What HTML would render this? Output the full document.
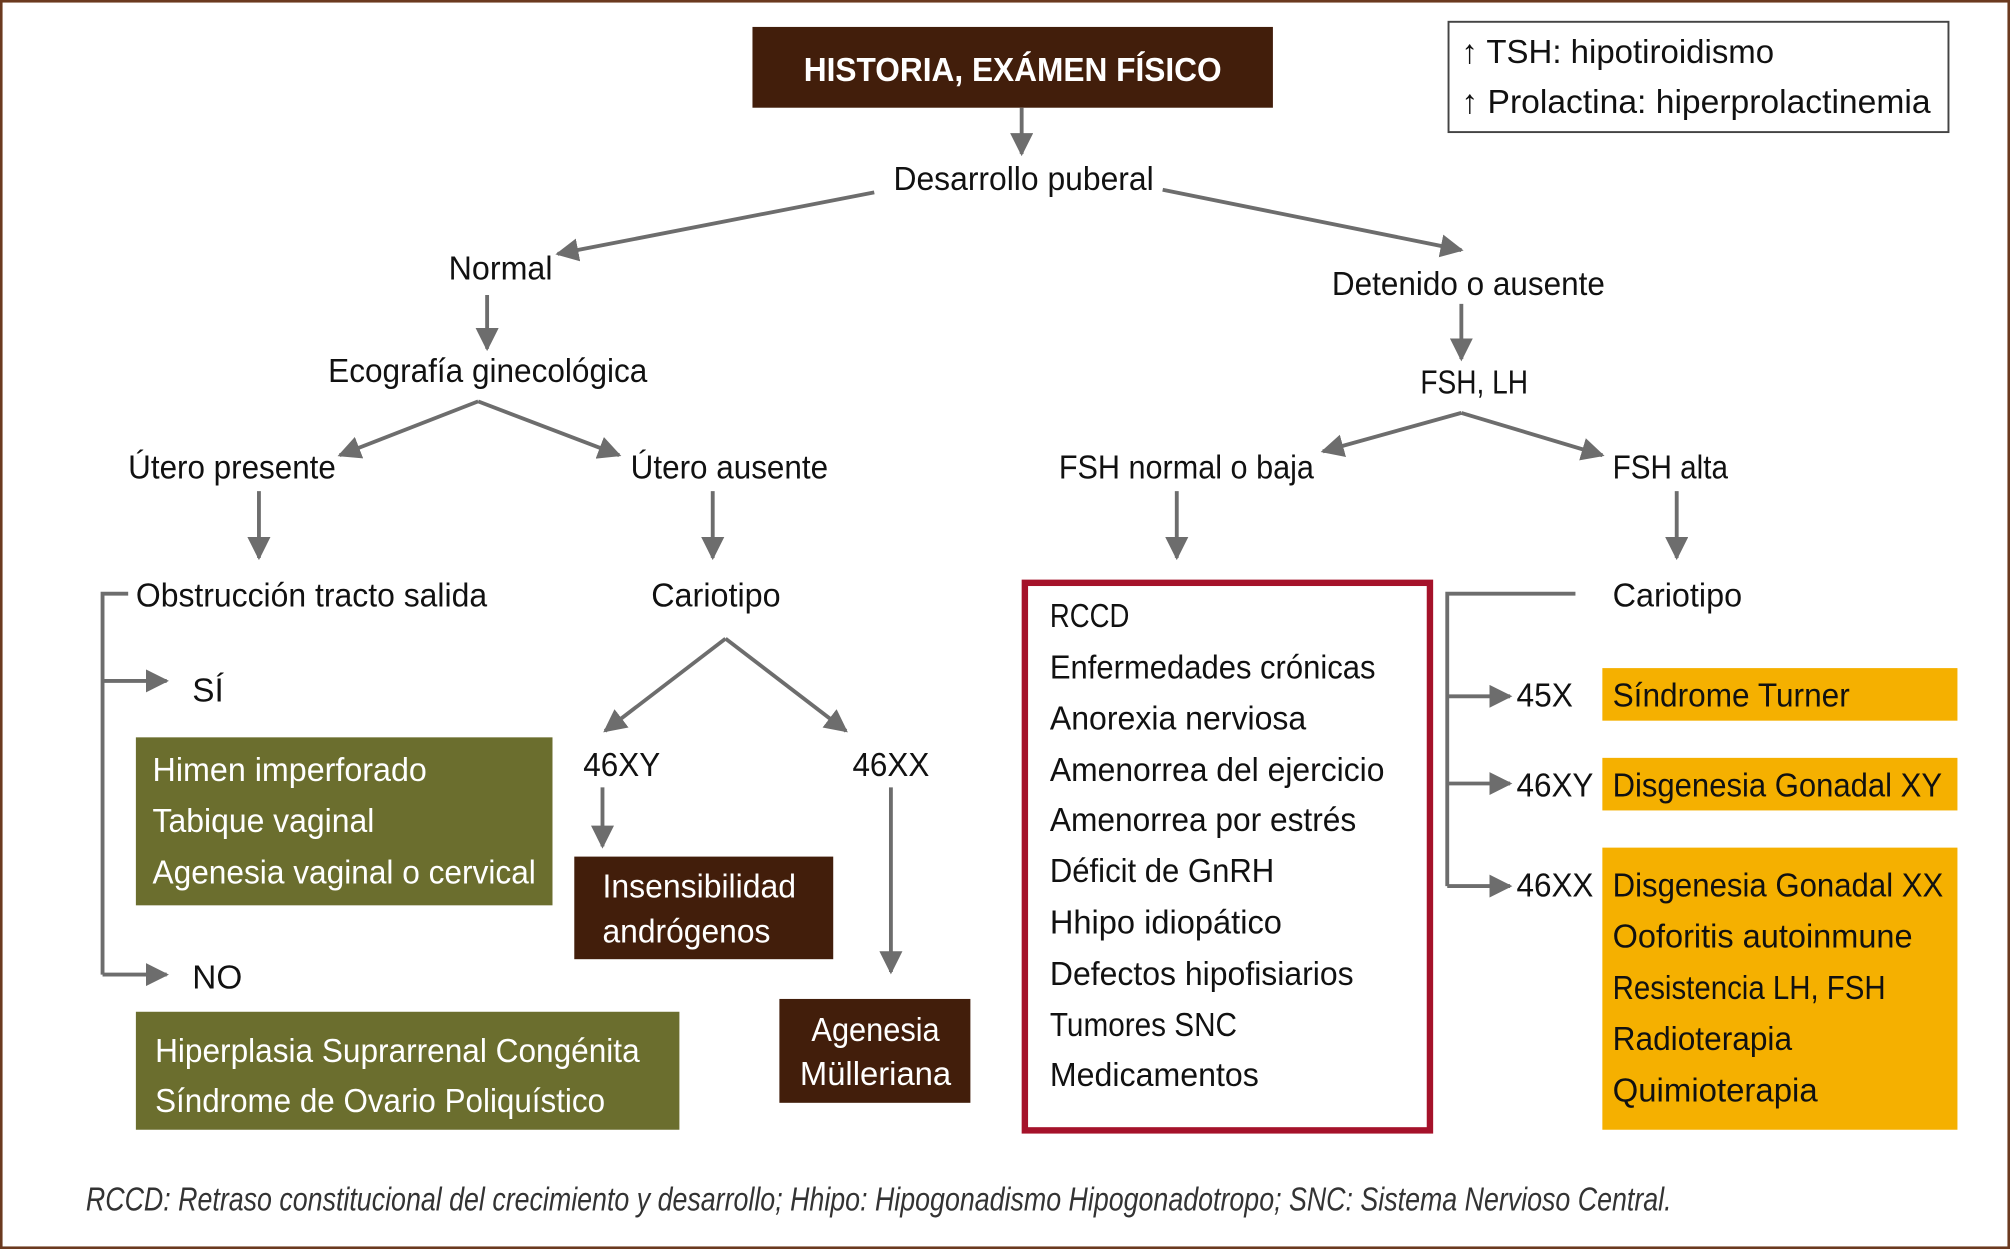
<!DOCTYPE html>
<html><head><meta charset="utf-8"><style>
html,body{margin:0;padding:0;background:#fff}
svg{display:block}
text{font-family:"Liberation Sans Narrow","Liberation Sans",sans-serif;font-size:26px;fill:#111}
.w{fill:#fff}
.l{stroke:#6d6d6d;stroke-width:3;fill:none}
</style></head><body>
<svg width="2010" height="1249" viewBox="0 0 1568 974" preserveAspectRatio="none" xmlns="http://www.w3.org/2000/svg">
<defs><marker id="a" viewBox="0 0 10 10" refX="9" refY="5" markerWidth="6" markerHeight="6" markerUnits="userSpaceOnUse" orient="auto"><path d="M0,0L10,5L0,10z" fill="#6d6d6d"/></marker>
<marker id="b" viewBox="0 0 10 10" refX="9" refY="5" markerWidth="18" markerHeight="18" markerUnits="userSpaceOnUse" orient="auto"><path d="M0,0L10,5L0,10z" fill="#6d6d6d"/></marker></defs>
<rect x="1" y="1" width="1566" height="972" fill="none" stroke="#6b3a1f" stroke-width="2"/>
<rect x="587" y="21" width="406" height="63" fill="#421e0b"/>
<text x="790" y="63" text-anchor="middle" class="w" font-weight="bold" textLength="326" lengthAdjust="spacingAndGlyphs">HISTORIA, EXÁMEN FÍSICO</text>
<rect x="1130" y="17" width="390" height="86" fill="none" stroke="#444" stroke-width="1.5"/>
<text x="1140" y="49" textLength="244" lengthAdjust="spacingAndGlyphs">↑ TSH: hipotiroidismo</text>
<text x="1140" y="88" textLength="366" lengthAdjust="spacingAndGlyphs">↑  Prolactina: hiperprolactinemia</text>
<g class="l">
<path d="M797,84V120" marker-end="url(#b)"/>
<path d="M682,150L435,198" marker-end="url(#b)"/>
<path d="M907,148L1140,195" marker-end="url(#b)"/>
<path d="M380,230V272" marker-end="url(#b)"/>
<path d="M373,313L265,355" marker-end="url(#b)"/>
<path d="M373,313L483,355" marker-end="url(#b)"/>
<path d="M202,383V435" marker-end="url(#b)"/>
<path d="M556,383V435" marker-end="url(#b)"/>
<path d="M100,463H80V760"/>
<path d="M80,531H130" marker-end="url(#b)"/>
<path d="M80,760H130" marker-end="url(#b)"/>
<path d="M566,498L472,570" marker-end="url(#b)"/>
<path d="M566,498L660,570" marker-end="url(#b)"/>
<path d="M470,614V660" marker-end="url(#b)"/>
<path d="M695,614V758" marker-end="url(#b)"/>
<path d="M1140,237V280" marker-end="url(#b)"/>
<path d="M1140,322L1032,352" marker-end="url(#b)"/>
<path d="M1140,322L1250,355" marker-end="url(#b)"/>
<path d="M918,383V435" marker-end="url(#b)"/>
<path d="M1308,383V435" marker-end="url(#b)"/>
<path d="M1229,463H1129V691"/>
<path d="M1129,543H1178" marker-end="url(#b)"/>
<path d="M1129,611H1178" marker-end="url(#b)"/>
<path d="M1129,691H1178" marker-end="url(#b)"/>
</g>
<text x="697" y="148" textLength="203" lengthAdjust="spacingAndGlyphs">Desarrollo puberal</text>
<text x="350" y="218" textLength="81" lengthAdjust="spacingAndGlyphs">Normal</text>
<text x="1039" y="230" textLength="213" lengthAdjust="spacingAndGlyphs">Detenido o ausente</text>
<text x="256" y="298" textLength="249" lengthAdjust="spacingAndGlyphs">Ecografía ginecológica</text>
<text x="100" y="373" textLength="162" lengthAdjust="spacingAndGlyphs">Útero presente</text>
<text x="492" y="373" textLength="154" lengthAdjust="spacingAndGlyphs">Útero ausente</text>
<text x="106" y="473" textLength="274" lengthAdjust="spacingAndGlyphs">Obstrucción tracto salida</text>
<text x="508" y="473" textLength="101" lengthAdjust="spacingAndGlyphs">Cariotipo</text>
<text x="150" y="547" font-size="30">SÍ</text>
<text x="150" y="771" font-size="30">NO</text>
<rect x="106" y="575" width="325" height="131" fill="#6b6e2e"/>
<text x="119" y="609" class="w" textLength="214" lengthAdjust="spacingAndGlyphs">Himen imperforado</text>
<text x="119" y="649" class="w" textLength="173" lengthAdjust="spacingAndGlyphs">Tabique vaginal</text>
<text x="119" y="689" class="w" textLength="299" lengthAdjust="spacingAndGlyphs">Agenesia vaginal o cervical</text>
<rect x="106" y="789" width="424" height="92" fill="#6b6e2e"/>
<text x="121" y="828" class="w" textLength="378" lengthAdjust="spacingAndGlyphs">Hiperplasia Suprarrenal Congénita</text>
<text x="121" y="867" class="w" textLength="351" lengthAdjust="spacingAndGlyphs">Síndrome de Ovario Poliquístico</text>
<text x="455" y="605" textLength="60" lengthAdjust="spacingAndGlyphs">46XY</text>
<text x="665" y="605" textLength="60" lengthAdjust="spacingAndGlyphs">46XX</text>
<rect x="448" y="668" width="202" height="80" fill="#421e0b"/>
<text x="470" y="700" class="w" textLength="151" lengthAdjust="spacingAndGlyphs">Insensibilidad</text>
<text x="470" y="735" class="w" textLength="131" lengthAdjust="spacingAndGlyphs">andrógenos</text>
<rect x="608" y="779" width="149" height="81" fill="#421e0b"/>
<text x="683" y="812" class="w" text-anchor="middle" textLength="100" lengthAdjust="spacingAndGlyphs">Agenesia</text>
<text x="683" y="846" class="w" text-anchor="middle" textLength="118" lengthAdjust="spacingAndGlyphs">Mülleriana</text>
<text x="1108" y="307" textLength="84" lengthAdjust="spacingAndGlyphs">FSH, LH</text>
<text x="826" y="373" textLength="199" lengthAdjust="spacingAndGlyphs">FSH normal o baja</text>
<text x="1258" y="373" textLength="90" lengthAdjust="spacingAndGlyphs">FSH alta</text>
<rect x="799.5" y="454.5" width="316" height="427" fill="none" stroke="#a5122a" stroke-width="5"/>
<g>
<text x="819" y="489" textLength="62" lengthAdjust="spacingAndGlyphs">RCCD</text>
<text x="819" y="529" textLength="254" lengthAdjust="spacingAndGlyphs">Enfermedades crónicas</text>
<text x="819" y="569" textLength="200" lengthAdjust="spacingAndGlyphs">Anorexia nerviosa</text>
<text x="819" y="609" textLength="261" lengthAdjust="spacingAndGlyphs">Amenorrea del ejercicio</text>
<text x="819" y="648" textLength="239" lengthAdjust="spacingAndGlyphs">Amenorrea por estrés</text>
<text x="819" y="688" textLength="175" lengthAdjust="spacingAndGlyphs">Déficit de GnRH</text>
<text x="819" y="728" textLength="181" lengthAdjust="spacingAndGlyphs">Hhipo idiopático</text>
<text x="819" y="768" textLength="237" lengthAdjust="spacingAndGlyphs">Defectos hipofisiarios</text>
<text x="819" y="808" textLength="146" lengthAdjust="spacingAndGlyphs">Tumores SNC</text>
<text x="819" y="847" textLength="163" lengthAdjust="spacingAndGlyphs">Medicamentos</text>
</g>
<text x="1258" y="473" textLength="101" lengthAdjust="spacingAndGlyphs">Cariotipo</text>
<text x="1183" y="551" textLength="44" lengthAdjust="spacingAndGlyphs">45X</text>
<text x="1183" y="621" textLength="60" lengthAdjust="spacingAndGlyphs">46XY</text>
<text x="1183" y="699" textLength="60" lengthAdjust="spacingAndGlyphs">46XX</text>
<rect x="1250" y="521" width="277" height="41" fill="#f5b000"/>
<rect x="1250" y="591" width="277" height="41" fill="#f5b000"/>
<rect x="1250" y="661" width="277" height="220" fill="#f5b000"/>
<text x="1258" y="551" textLength="185" lengthAdjust="spacingAndGlyphs">Síndrome Turner</text>
<text x="1258" y="621" textLength="257" lengthAdjust="spacingAndGlyphs">Disgenesia Gonadal XY</text>
<text x="1258" y="699" textLength="258" lengthAdjust="spacingAndGlyphs">Disgenesia Gonadal XX</text>
<text x="1258" y="739" textLength="234" lengthAdjust="spacingAndGlyphs">Ooforitis autoinmune</text>
<text x="1258" y="779" textLength="213" lengthAdjust="spacingAndGlyphs">Resistencia LH, FSH</text>
<text x="1258" y="819" textLength="140" lengthAdjust="spacingAndGlyphs">Radioterapia</text>
<text x="1258" y="859" textLength="160" lengthAdjust="spacingAndGlyphs">Quimioterapia</text>
<text x="67" y="944" font-size="21" font-style="italic" style="fill:#333" textLength="1237" lengthAdjust="spacingAndGlyphs">RCCD: Retraso constitucional del crecimiento y desarrollo; Hhipo: Hipogonadismo Hipogonadotropo; SNC: Sistema Nervioso Central.</text>
</svg>
</body></html>
